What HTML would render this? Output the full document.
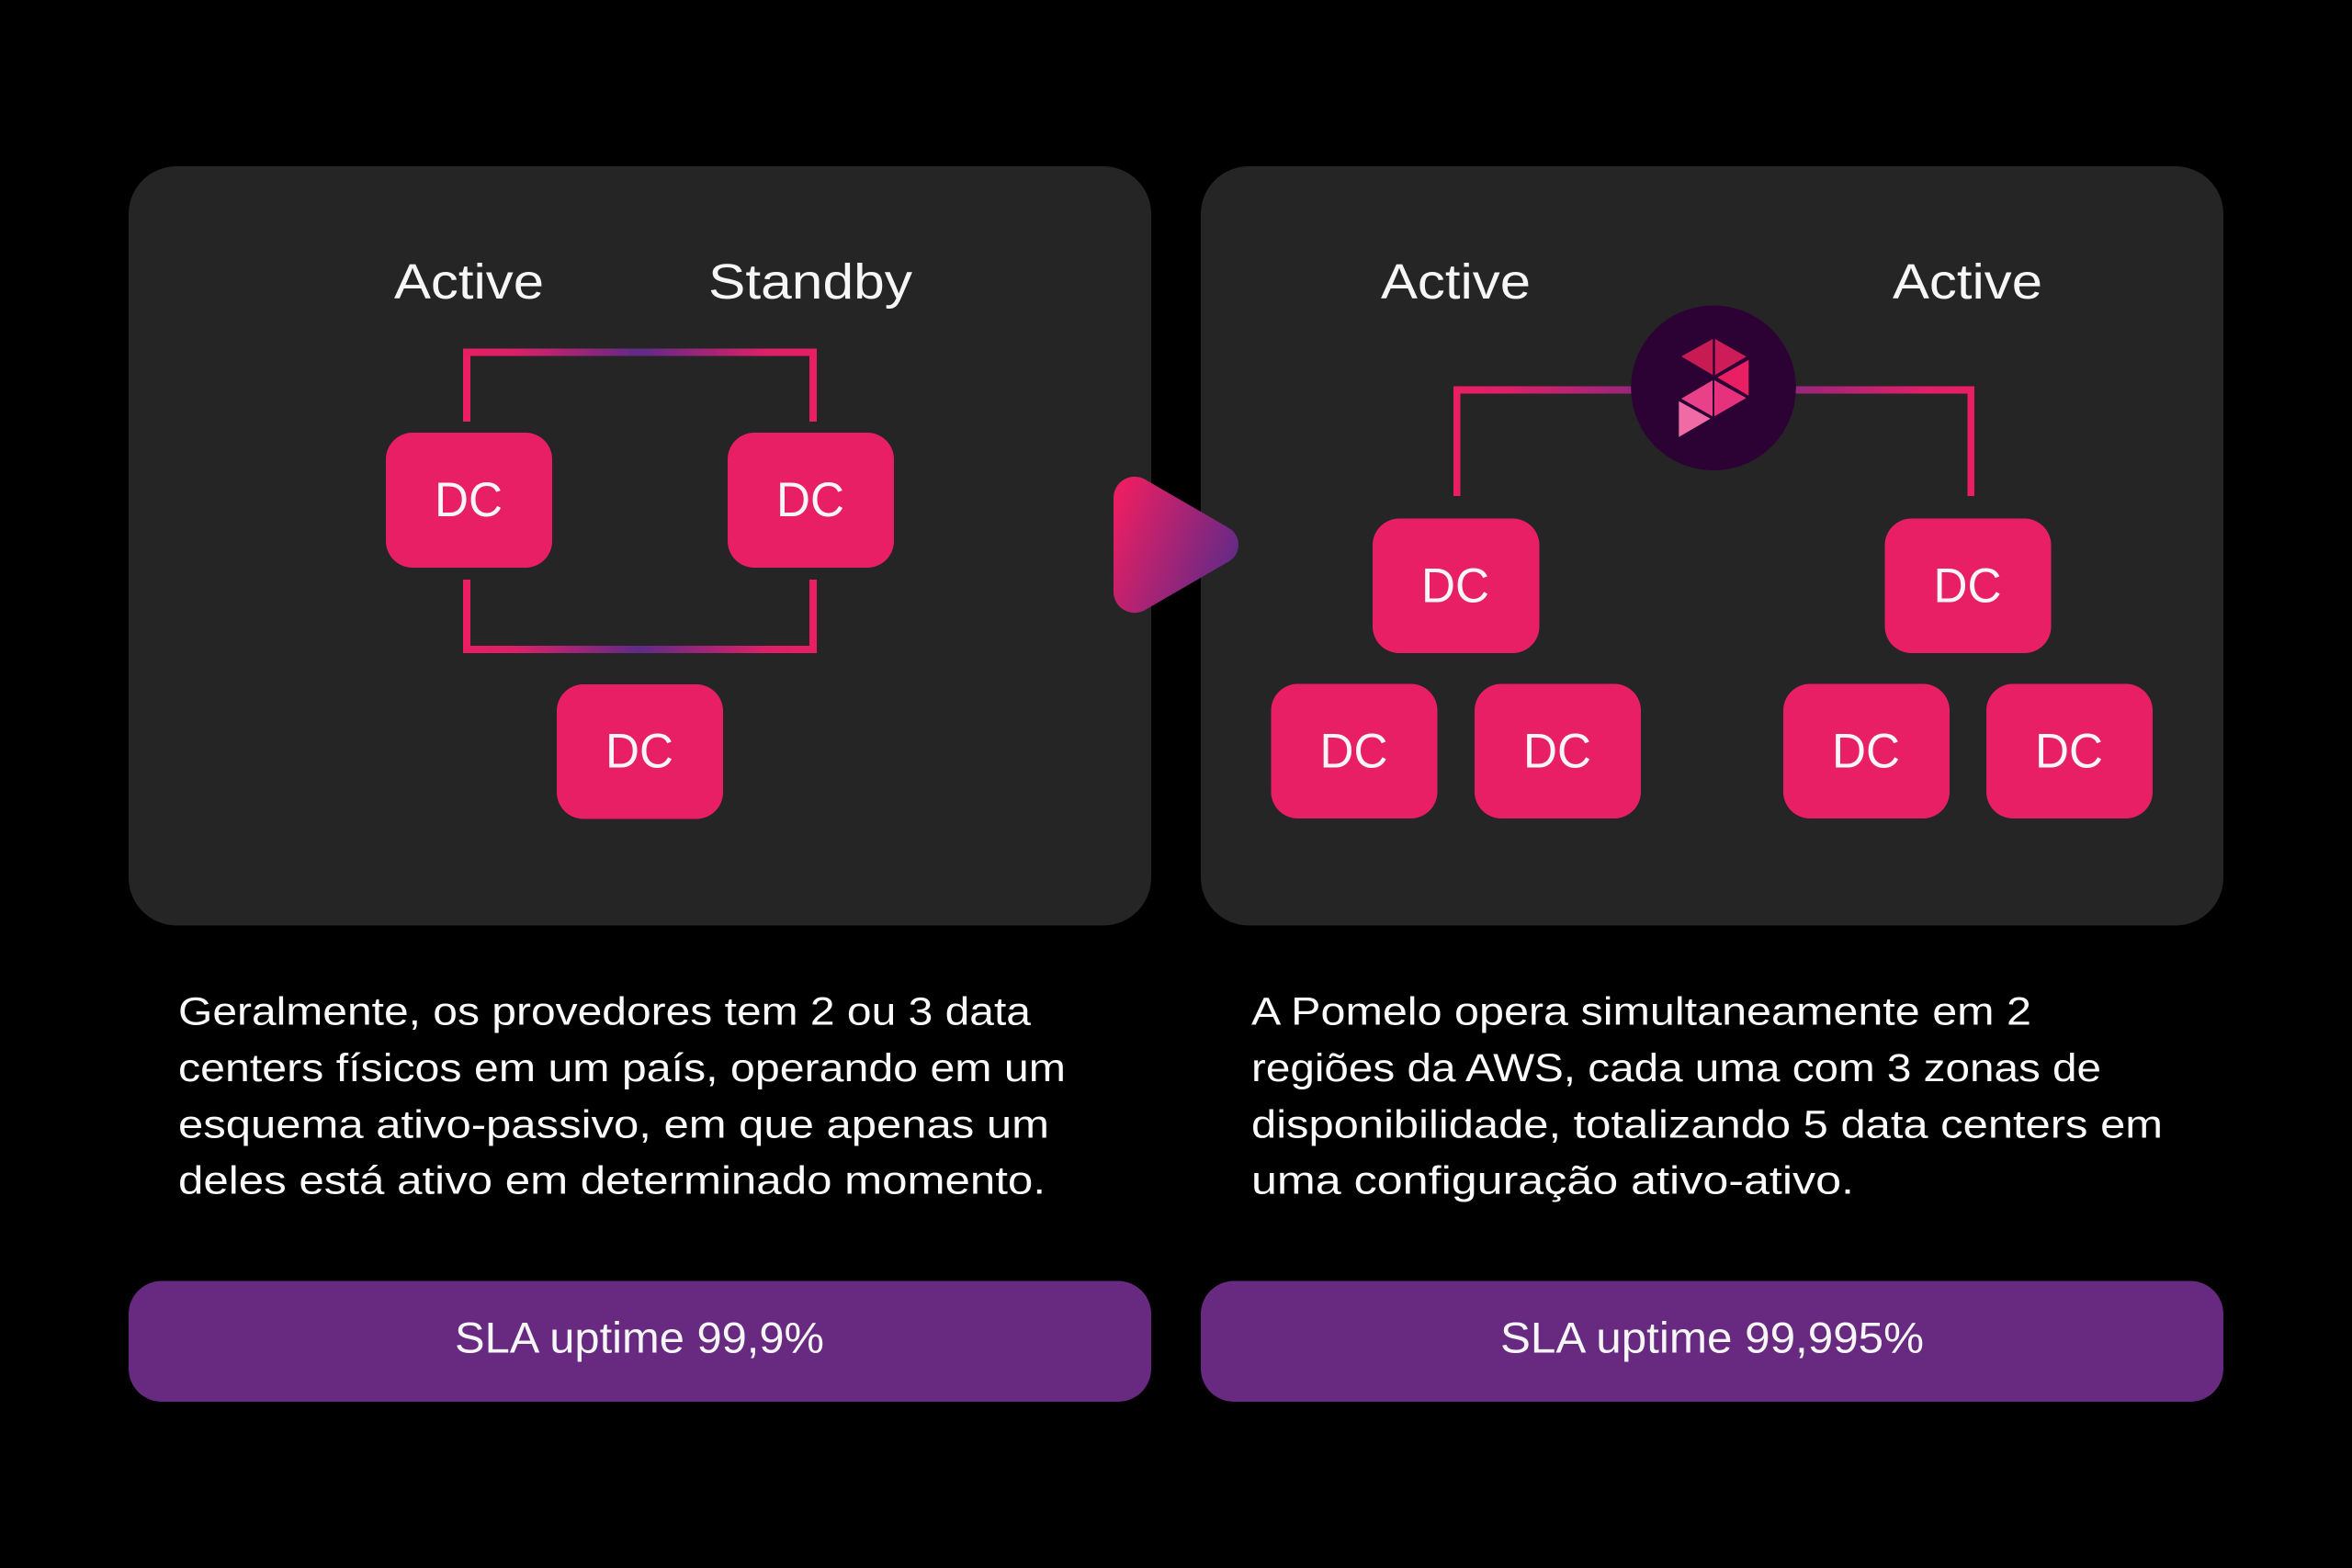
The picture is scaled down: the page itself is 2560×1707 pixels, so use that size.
<!DOCTYPE html>
<html lang="pt">
<head>
<meta charset="utf-8">
<title>SLA uptime</title>
<style>
html,body{margin:0;padding:0;background:#000;width:2560px;height:1707px;overflow:hidden}
svg{display:block}
text{font-family:"Liberation Sans",sans-serif;fill:#f6f6f6}
.l{font-size:54px}
.d{font-size:53px}
.p{font-size:43px;fill:#fafafa}
.s{font-size:47px}
</style>
</head>
<body>
<svg width="2560" height="1707" viewBox="0 0 2560 1707" xmlns="http://www.w3.org/2000/svg">
<defs>
<linearGradient id="gb" gradientUnits="userSpaceOnUse" x1="504" y1="0" x2="889" y2="0">
<stop offset="0" stop-color="#e91e63"/><stop offset="0.15" stop-color="#dc2068"/><stop offset="0.5" stop-color="#5f2a88"/><stop offset="0.85" stop-color="#dc2068"/><stop offset="1" stop-color="#e91e63"/>
</linearGradient>
<linearGradient id="gl" gradientUnits="userSpaceOnUse" x1="1582" y1="0" x2="1865" y2="0">
<stop offset="0" stop-color="#e91e63"/><stop offset="0.2" stop-color="#df2068"/><stop offset="1" stop-color="#6a2a88"/>
</linearGradient>
<linearGradient id="gr" gradientUnits="userSpaceOnUse" x1="2149" y1="0" x2="1865" y2="0">
<stop offset="0" stop-color="#e91e63"/><stop offset="0.2" stop-color="#df2068"/><stop offset="1" stop-color="#6a2a88"/>
</linearGradient>
<linearGradient id="gt" gradientUnits="userSpaceOnUse" x1="1212" y1="560" x2="1348" y2="615">
<stop offset="0" stop-color="#e91e63"/><stop offset="1" stop-color="#5f2a88"/>
</linearGradient>
</defs>

<rect width="2560" height="1707" fill="#000"/>

<!-- panels -->
<rect x="140" y="181" width="1113" height="826.500" rx="52" fill="#252525"/>
<rect x="1307" y="181" width="1113" height="826.500" rx="52" fill="#252525"/>

<!-- left labels -->
<text class="l" x="429" y="325" textLength="163" lengthAdjust="spacingAndGlyphs">Active</text>
<text class="l" x="771" y="325" textLength="222" lengthAdjust="spacingAndGlyphs">Standby</text>

<!-- left brackets -->
<rect x="504" y="379.500" width="8" height="79.500" fill="#e91e63"/>
<rect x="881" y="379.500" width="8" height="79.500" fill="#e91e63"/>
<rect x="504" y="379.500" width="385" height="8" fill="url(#gb)"/>
<rect x="504" y="631" width="8" height="80" fill="#e91e63"/>
<rect x="881" y="631" width="8" height="80" fill="#e91e63"/>
<rect x="504" y="703" width="385" height="8" fill="url(#gb)"/>

<!-- left DCs -->
<g fill="#e91f66">
<rect x="420" y="471" width="181" height="147" rx="29"/>
<rect x="792" y="471" width="181" height="147" rx="29"/>
<rect x="606" y="745" width="181" height="146.500" rx="29"/>
</g>
<text class="d" x="473" y="562" textLength="74" lengthAdjust="spacingAndGlyphs">DC</text>
<text class="d" x="845" y="562" textLength="74" lengthAdjust="spacingAndGlyphs">DC</text>
<text class="d" x="659" y="835.500" textLength="74" lengthAdjust="spacingAndGlyphs">DC</text>

<!-- right labels -->
<text class="l" x="1503" y="325" textLength="163" lengthAdjust="spacingAndGlyphs">Active</text>
<text class="l" x="2060" y="325" textLength="163" lengthAdjust="spacingAndGlyphs">Active</text>

<!-- right connectors -->
<rect x="1582" y="420.500" width="283" height="8" fill="url(#gl)"/>
<rect x="1582" y="420.500" width="7.500" height="119.500" fill="#e91e63"/>
<rect x="1865" y="420.500" width="284" height="8" fill="url(#gr)"/>
<rect x="2141.500" y="420.500" width="7.500" height="119.500" fill="#e91e63"/>

<!-- logo -->
<circle cx="1865" cy="422.300" r="89.800" fill="#2b0233"/>
<polygon points="1830,388 1864.300,369 1864.300,408.300" fill="#c91b53"/>
<polygon points="1866.700,369 1900.700,388.300 1866.700,408.300" fill="#ce1c58"/>
<polygon points="1903.300,391.700 1903.300,430.700 1869.300,411" fill="#e91e63"/>
<polygon points="1866,414 1900.700,433.300 1866,453.300" fill="#e6327c"/>
<polygon points="1864,414 1864,453.300 1830,434" fill="#e9408a"/>
<polygon points="1827.300,436.700 1861.700,455.700 1827.300,475.700" fill="#f06aa6"/>

<!-- right DCs -->
<g fill="#e91f66">
<rect x="1494" y="564.500" width="181.500" height="146.500" rx="29"/>
<rect x="2051.500" y="564.500" width="181" height="146.500" rx="29"/>
<rect x="1383.500" y="744.500" width="181" height="146.500" rx="29"/>
<rect x="1605" y="744.500" width="181" height="146.500" rx="29"/>
<rect x="1941" y="744.500" width="181" height="146.500" rx="29"/>
<rect x="2162" y="744.500" width="181" height="146.500" rx="29"/>
</g>
<text class="d" x="1547" y="655.500" textLength="74" lengthAdjust="spacingAndGlyphs">DC</text>
<text class="d" x="2104.500" y="655.500" textLength="74" lengthAdjust="spacingAndGlyphs">DC</text>
<text class="d" x="1436.500" y="835.500" textLength="74" lengthAdjust="spacingAndGlyphs">DC</text>
<text class="d" x="1658" y="835.500" textLength="74" lengthAdjust="spacingAndGlyphs">DC</text>
<text class="d" x="1994" y="835.500" textLength="74" lengthAdjust="spacingAndGlyphs">DC</text>
<text class="d" x="2215" y="835.500" textLength="74" lengthAdjust="spacingAndGlyphs">DC</text>

<!-- arrow -->
<path d="M1212,542 A23,23 0 0 1 1246.500,522 L1337.500,574.800 A21,21 0 0 1 1337.500,611.200 L1246.500,664 A23,23 0 0 1 1212,646 Z" fill="url(#gt)"/>

<!-- paragraphs -->
<text class="p" x="194" y="1115.700" textLength="928" lengthAdjust="spacingAndGlyphs">Geralmente, os provedores tem 2 ou 3 data</text>
<text class="p" x="194" y="1177" textLength="966" lengthAdjust="spacingAndGlyphs">centers físicos em um país, operando em um</text>
<text class="p" x="194" y="1238.300" textLength="948" lengthAdjust="spacingAndGlyphs">esquema ativo-passivo, em que apenas um</text>
<text class="p" x="194" y="1299.500" textLength="944" lengthAdjust="spacingAndGlyphs">deles está ativo em determinado momento.</text>

<text class="p" x="1362" y="1115.700" textLength="849" lengthAdjust="spacingAndGlyphs">A Pomelo opera simultaneamente em 2</text>
<text class="p" x="1362" y="1177" textLength="925" lengthAdjust="spacingAndGlyphs">regiões da AWS, cada uma com 3 zonas de</text>
<text class="p" x="1362" y="1238.300" textLength="992" lengthAdjust="spacingAndGlyphs">disponibilidade, totalizando 5 data centers em</text>
<text class="p" x="1362" y="1299.500" textLength="656" lengthAdjust="spacingAndGlyphs">uma configuração ativo-ativo.</text>

<!-- SLA bars -->
<rect x="140" y="1394.500" width="1113" height="131.500" rx="36" fill="#672a80"/>
<rect x="1307" y="1394.500" width="1113" height="131.500" rx="36" fill="#672a80"/>
<text class="s" x="495" y="1472.500" textLength="402" lengthAdjust="spacingAndGlyphs">SLA uptime 99,9%</text>
<text class="s" x="1633" y="1472.500" textLength="461" lengthAdjust="spacingAndGlyphs">SLA uptime 99,995%</text>
</svg>
</body>
</html>
